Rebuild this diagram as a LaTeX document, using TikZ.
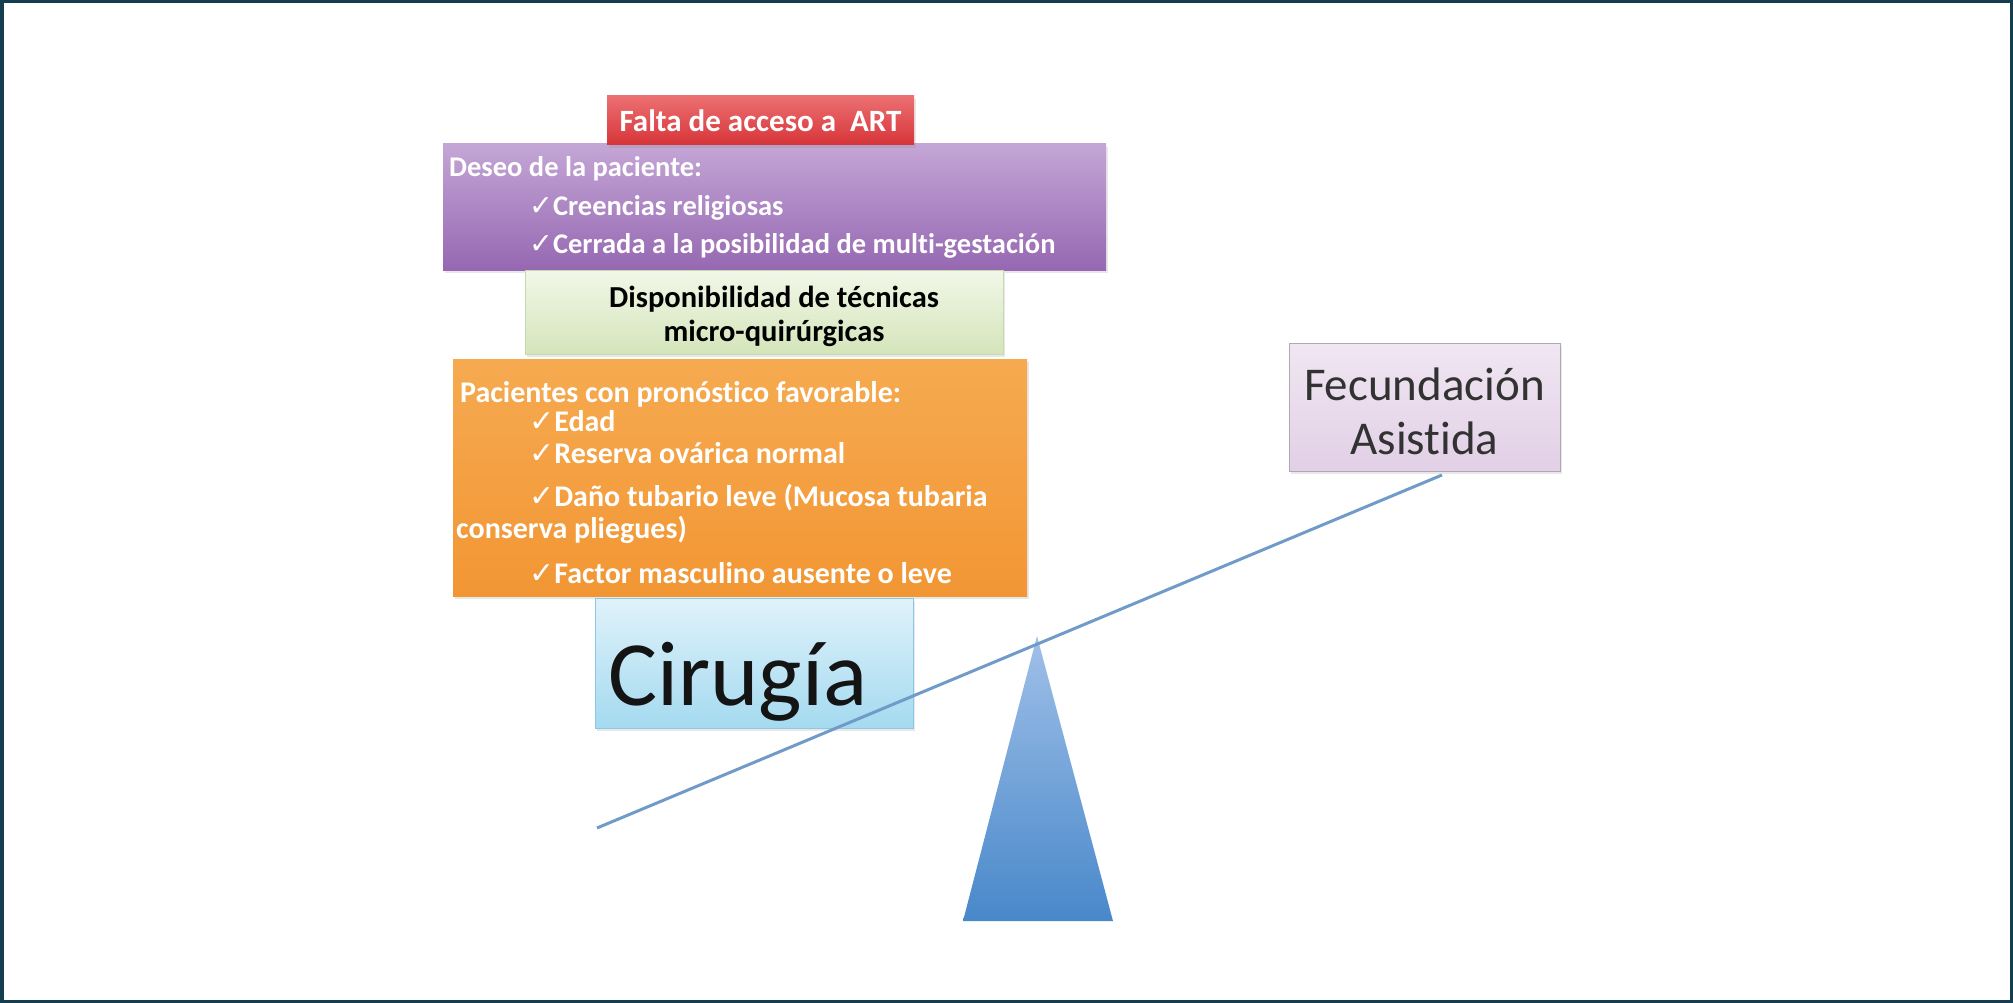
\documentclass[tikz,border=0pt]{standalone}
\usepackage{fontspec}
\setmainfont[Ligatures=NoCommon, Contextuals=NoAlternate, RawFeature={-liga;-clig;-calt}]{Carlito}
\newfontfamily\checkfont{DejaVu Sans}
\usetikzlibrary{shadows}
\definecolor{framec}{RGB}{20,62,80}
\definecolor{beamc}{RGB}{112,155,200}
\newcommand{\ck}{{\checkfont\mdseries\scalebox{1.0}{✓}}}
\tikzset{
  box/.style={rectangle, inner sep=0pt, draw=none, drop shadow={opacity=0.18, shadow xshift=2pt, shadow yshift=-3pt}},
  redbox/.style={box, top color={rgb,255:red,236;green,112;blue,114}, bottom color={rgb,255:red,214;green,52;blue,56}},
  purplebox/.style={box, top color={rgb,255:red,196;green,166;blue,214}, bottom color={rgb,255:red,150;green,104;blue,178}},
  greenbox/.style={box, draw={rgb,255:red,200;green,216;blue,176}, top color={rgb,255:red,242;green,247;blue,232}, bottom color={rgb,255:red,212;green,229;blue,186}},
  orangebox/.style={box, top color={rgb,255:red,246;green,170;blue,80}, bottom color={rgb,255:red,242;green,150;blue,52}},
  bluebox/.style={box, draw={rgb,255:red,140;green,200;blue,230}, top color={rgb,255:red,224;green,242;blue,250}, bottom color={rgb,255:red,164;green,218;blue,240}},
  lavbox/.style={box, draw={rgb,255:red,178;green,166;blue,180}, top color={rgb,255:red,240;green,230;blue,242}, bottom color={rgb,255:red,226;green,208;blue,230}},
  ptxt/.style={inner sep=0pt, text=white, anchor=base west, font=\fontsize{28.5}{33}\selectfont\bfseries},
  otxt/.style={inner sep=0pt, text=white, anchor=base west, font=\fontsize{30}{35}\selectfont\bfseries},
  btxt/.style={inner sep=0pt, text=black, font=\fontsize{30.5}{35}\selectfont\bfseries, anchor=base},
  ftxt/.style={anchor=base, inner sep=0pt, text={rgb,255:red,50;green,50;blue,50}, font=\fontsize{47}{54}\selectfont},
}
\begin{document}
\begin{tikzpicture}[x=1pt,y=-1pt]
\useasboundingbox (0,0) rectangle (2013,1003);
\draw[framec, line width=3.5pt] (1.75,1.75) rectangle (2011.25,1001.25);

% boxes
\node[purplebox, minimum width=663pt, minimum height=126pt] (deseo) at (774.5,207) {};
\node[redbox, minimum width=307pt, minimum height=49pt] (art) at (760.5,120.5) {};
\node[greenbox, minimum width=478pt, minimum height=84pt] (disp) at (764,312) {};
\node[orangebox, minimum width=574pt, minimum height=237pt] (pac) at (740,477.5) {};
\node[bluebox, minimum width=318pt, minimum height=130pt] (cir) at (754,663) {};
\node[lavbox, minimum width=271pt, minimum height=128pt] (fec) at (1424.5,407) {};

% red text
\node[inner sep=0pt, text=white, font=\fontsize{31}{35}\selectfont\bfseries] (artt) at (art.center) {Falta de acceso a\ \ ART};

% purple text
\node[ptxt] (d0) at (449,177) {Deseo de la paciente:};
\node[ptxt] (d1) at (529,216) {\ck Creencias religiosas};
\node[ptxt] (d2) at (529,254) {\ck Cerrada a la posibilidad de multi-gestación};

% green text
\node[btxt] (g1) at (774,307) {Disponibilidad de técnicas};
\node[btxt] (g2) at (774,341) {micro-quirúrgicas};

% orange text
\node[otxt] (p0) at (460,402) {Pacientes con pronóstico favorable:};
\node[otxt] (p1) at (529,431) {\ck Edad};
\node[otxt] (p2) at (529,463) {\ck Reserva ovárica normal};
\node[otxt] (p3) at (529,506) {\ck Daño tubario leve (Mucosa tubaria};
\node[otxt] (p4) at (456,538) {conserva pliegues)};
\node[otxt] (p5) at (529,583) {\ck Factor masculino ausente o leve};

% Cirugia
\node[anchor=base west, inner sep=0pt, text={rgb,255:red,20;green,20;blue,20}, font=\fontsize{92}{100}\selectfont] (cirt) at (608,705) {Cirugía};

% Fecundacion
\node[ftxt] (f1) at (1424.5,400) {Fecundación};
\node[ftxt] (f2) at (1424.5,454) {Asistida};

% fulcrum
\coordinate (apex) at (1037,636);
\coordinate (bl) at (963,921);
\coordinate (br) at (1113,921);
\path[top color={rgb,255:red,160;green,192;blue,232}, bottom color={rgb,255:red,72;green,136;blue,202}] (apex) -- (br) -- (bl) -- cycle;

% beam
\coordinate (beamL) at (597,828);
\coordinate (beamR) at (1442,475);
\draw[beamc, line width=3pt] (beamL) -- (beamR);
\end{tikzpicture}
\end{document}
